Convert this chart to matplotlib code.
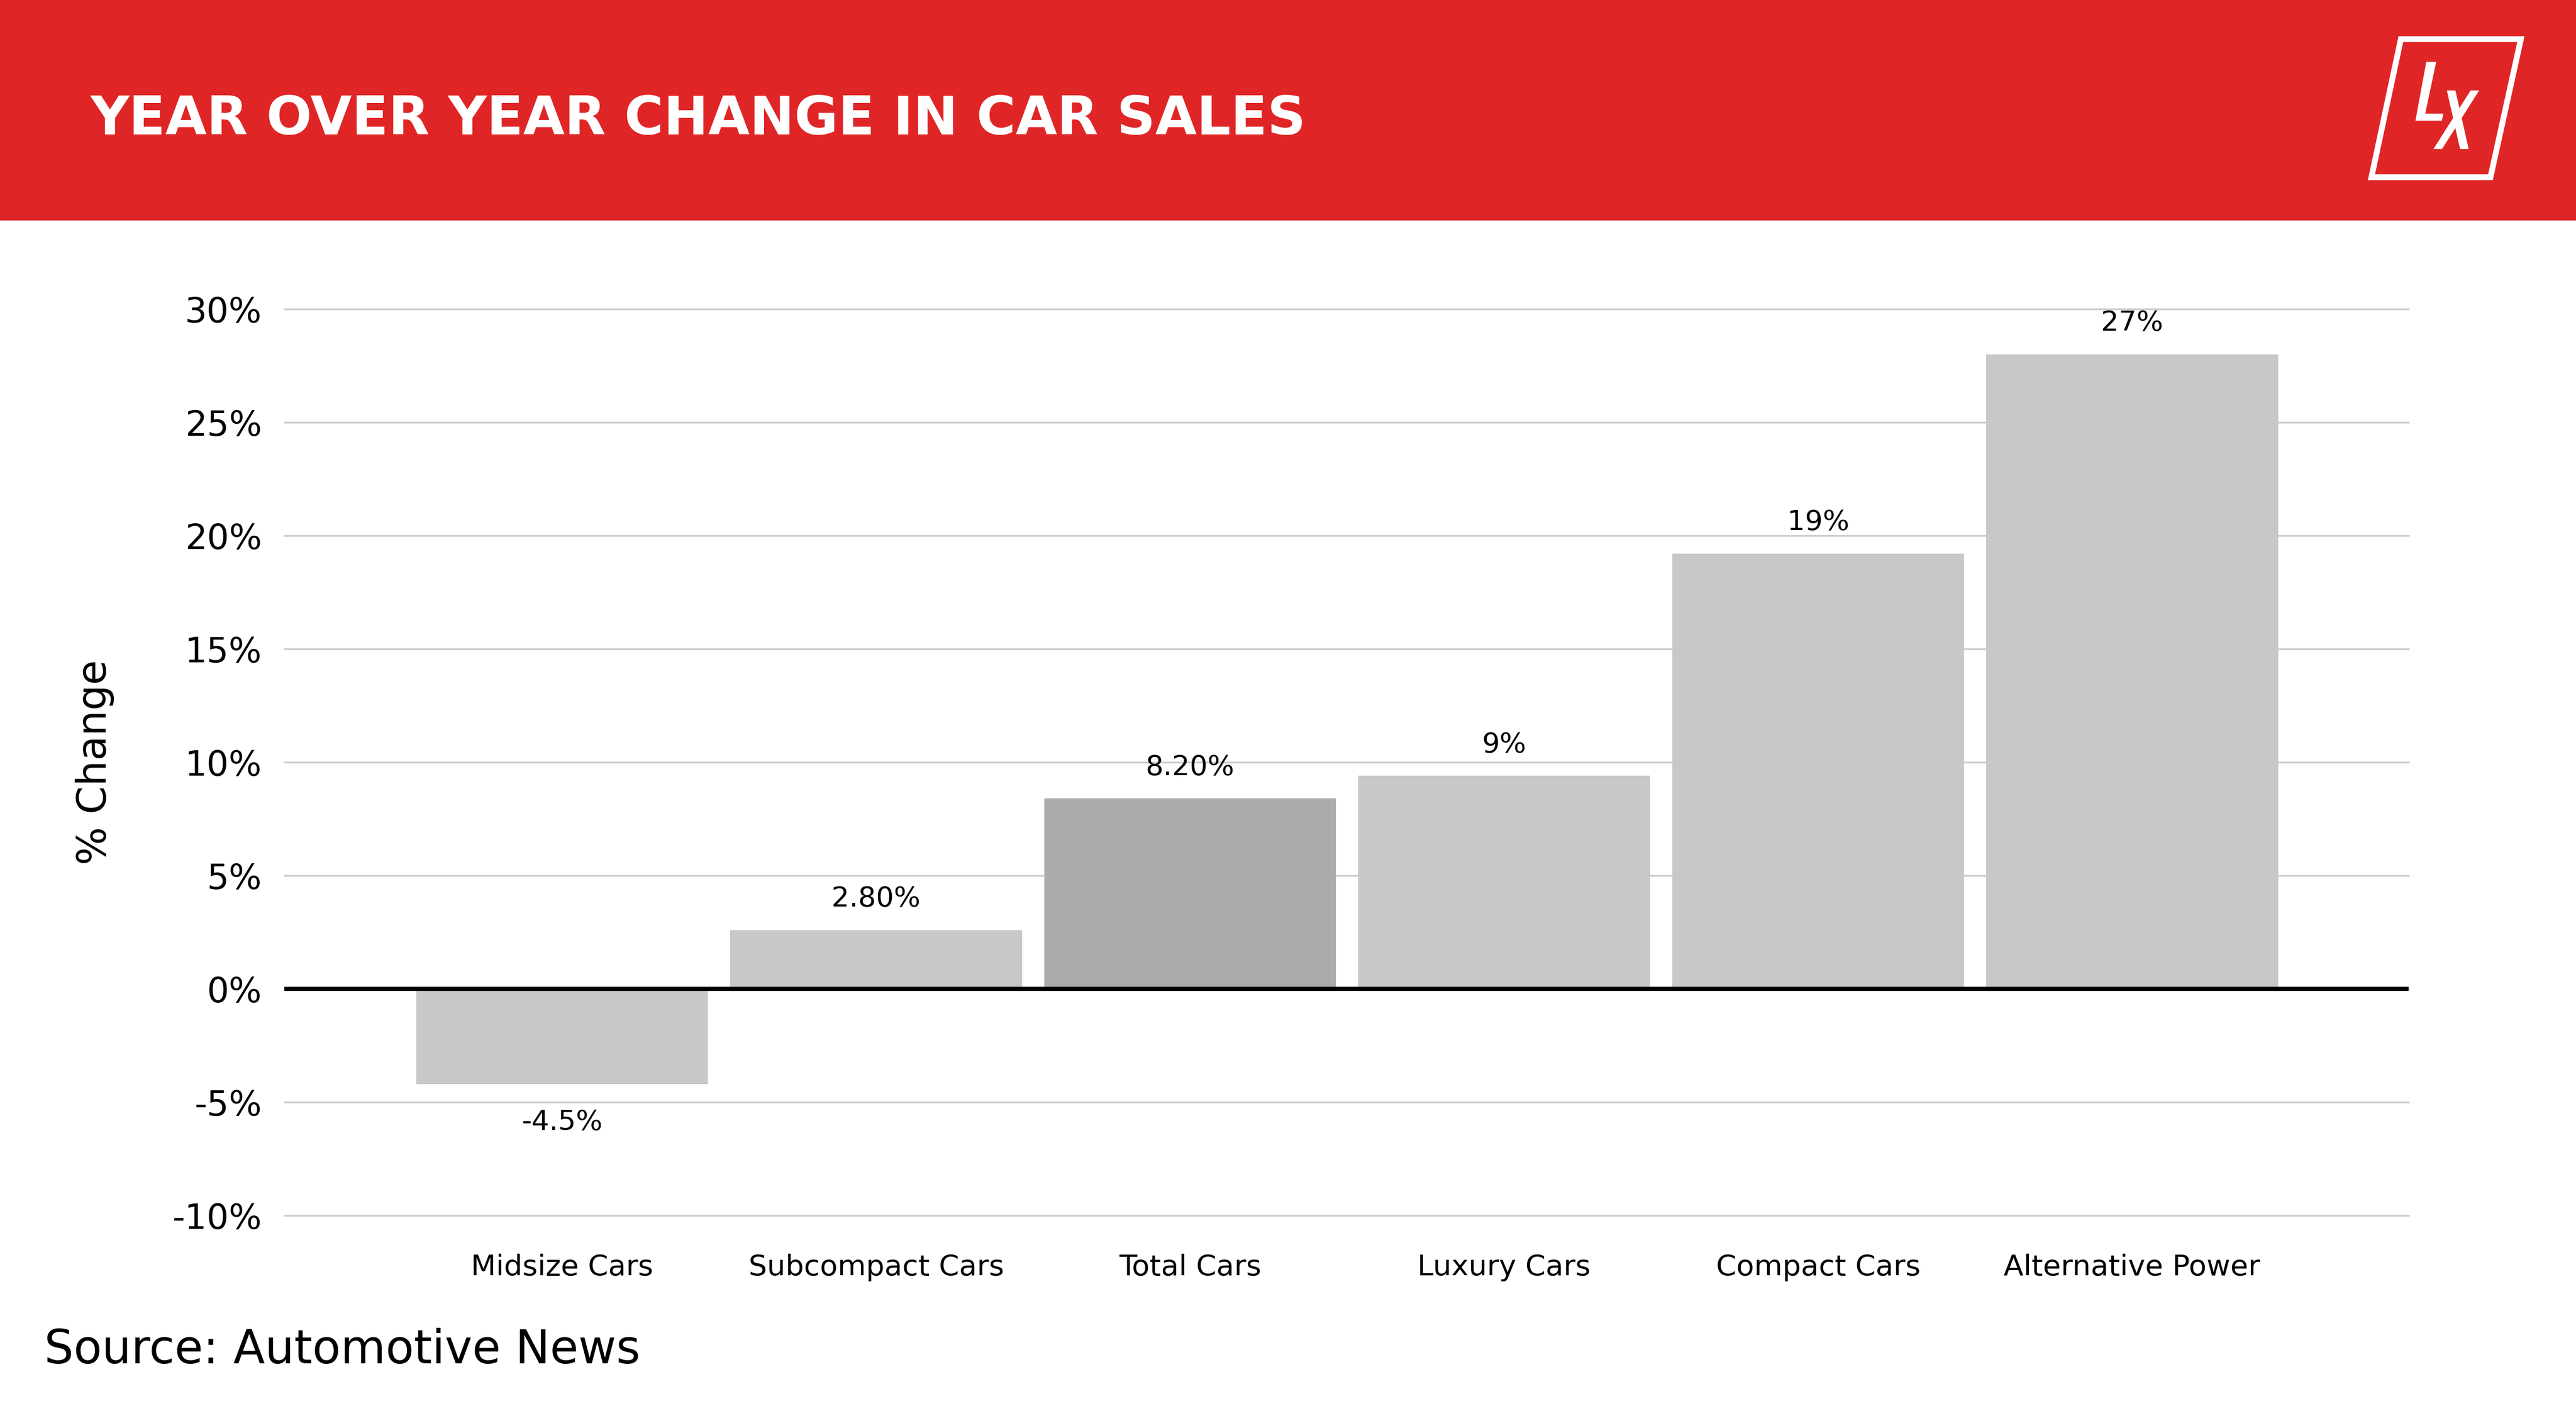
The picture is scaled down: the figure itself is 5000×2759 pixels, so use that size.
import matplotlib
matplotlib.use("Agg")
import matplotlib.pyplot as plt
from matplotlib.patches import Rectangle, Polygon

categories = ["Midsize Cars", "Subcompact Cars", "Total Cars", "Luxury Cars",
              "Compact Cars", "Alternative Power"]
values = [-4.2, 2.6, 8.4, 9.4, 19.2, 28.0]
value_labels = ["-4.5%", "2.80%", "8.20%", "9%", "19%", "27%"]
highlight = "Total Cars"
yticks = [-10, -5, 0, 5, 10, 15, 20, 25, 30]

RED = "#e02526"
BAR = "#c8c8c8"
BAR_DARK = "#ababab"

plt.rcParams["font.family"] = ["DejaVu Sans"]

W, H = 5000, 2759
fig = plt.figure(figsize=(16, 16 * H / W), dpi=312.5)


def fig_poly(pts, **kw):
    # pts in pixel coords from the top-left of the picture
    fig.patches.append(Polygon([(px / W, 1 - py / H) for px, py in pts], closed=True,
                               transform=fig.transFigure, **kw))


# red header band
fig.patches.append(Rectangle((0, 1 - 428 / H), 1, 428 / H, transform=fig.transFigure,
                             facecolor=RED, edgecolor="none", zorder=0))
fig.text(175 / W, 1 - 232 / H, "YEAR OVER YEAR CHANGE IN CAR SALES", color="white",
         fontsize=23.9, fontweight="bold", va="center", ha="left")

# logo: slanted frame with L and X
fig_poly([(4660, 76), (4893, 76), (4834, 344), (4603, 344)],
         facecolor="none", edgecolor="white", linewidth=2.6, zorder=2)
z = lambda pts: [(4500 + a / 3, b / 3) for a, b in pts]
fig_poly(z([(628, 360), (686, 360), (622, 662), (727, 662), (719, 703), (565, 703)]),
         facecolor="white", edgecolor="none", zorder=3)
fig_poly(z([(748, 527), (798, 527), (875, 868), (825, 868)]),
         facecolor="white", edgecolor="none", zorder=3)
fig_poly(z([(886, 527), (936, 527), (720, 868), (670, 868)]),
         facecolor="white", edgecolor="none", zorder=3)

# chart
ax = fig.add_axes([173 / 1568, (865 - 740) / 865, (1466 - 173) / 1568, (740 - 188) / 865])
x = list(range(len(categories)))
colors = [BAR_DARK if c == highlight else BAR for c in categories]
ax.bar(x, values, width=0.93, color=colors, zorder=2)
ax.axhline(0, color="black", linewidth=1.9, zorder=3)

for xi, v, lab in zip(x, values, value_labels):
    if v >= 0:
        ax.annotate(lab, (xi, v), xytext=(0, 8), textcoords="offset points",
                    ha="center", va="bottom", fontsize=12.5, color="black")
    else:
        ax.annotate(lab, (xi, v), xytext=(0, -11), textcoords="offset points",
                    ha="center", va="top", fontsize=12.5, color="black")

ax.set_xlim(-0.885, 5.88)
ax.set_ylim(-10, 30)
ax.set_yticks(yticks)
ax.set_yticklabels([f"{t}%" for t in yticks])
ax.set_xticks(x)
ax.set_xticklabels(categories)
ax.tick_params(axis="y", length=0, pad=10, labelsize=15.5)
ax.tick_params(axis="x", length=0, pad=17, labelsize=13)
ax.grid(axis="y", color="#cccccc", linewidth=0.8, zorder=1)
for gl in ax.get_ygridlines():
    gl.set_clip_on(False)
ax.set_axisbelow(True)
for s in ax.spines.values():
    s.set_visible(False)
ax.set_ylabel("% Change", fontsize=18, labelpad=26)

fig.text(27 / 1568, 1 - 822 / 865, "Source: Automotive News", fontsize=20.7,
         ha="left", va="center")

fig.savefig("out.png", dpi=312.5, facecolor="white")
